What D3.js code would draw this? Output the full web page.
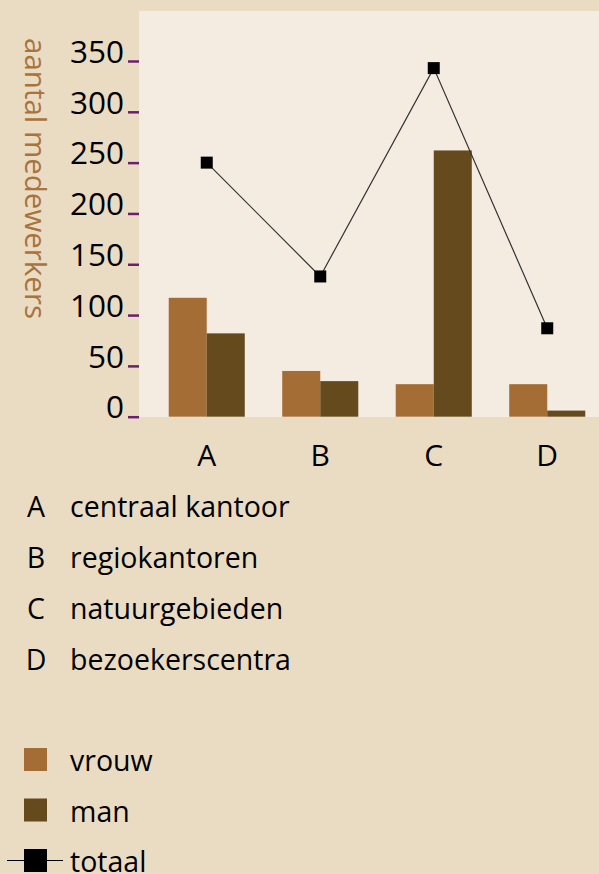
<!DOCTYPE html>
<html>
<head>
<meta charset="utf-8">
<script src="https://cdn.jsdelivr.net/npm/d3@7"></script>
<style>
  body { margin: 0; background: #eadbc3; }
  svg { display: block; font-family: "Open Sans", sans-serif; }
</style>
</head>
<body>
<svg id="chart" width="599" height="874"></svg>
<script>
// data
let categories = ["A", "B", "C", "D"];
let categoryNames = ["centraal kantoor", "regiokantoren", "natuurgebieden", "bezoekerscentra"];
let vrouw = [117, 45, 32, 32];
let man = [82, 35, 262, 6];
let totaal = [250, 138, 343, 87];
let yTicks = [0, 50, 100, 150, 200, 250, 300, 350];
let seriesNames = ["vrouw", "man", "totaal"];

let colors = {vrouw: "#a46d35", man: "#654a1d", totaal: "#000"};

let svg = d3.select("#chart");

let plot = {left: 139, right: 599, top: 11, bottom: 417};

svg.append("rect")
    .attr("x", plot.left)
    .attr("y", plot.top)
    .attr("width", plot.right - plot.left)
    .attr("height", plot.bottom - plot.top)
    .attr("fill", "#f5ece1");

let x = d3.scaleBand()
    .domain(categories)
    .range([150, 604])
    .paddingInner(0.33)
    .paddingOuter(0.165);

let xSub = d3.scaleBand()
    .domain(["vrouw", "man"])
    .range([0, x.bandwidth()]);

let y = d3.scaleLinear()
    .domain([0, 350])
    .range([416.7, 61]);

// y axis
let yAxis = svg.append("g")
    .attr("transform", "translate(" + plot.left + ",0)")
    .call(d3.axisLeft(y).tickValues(yTicks).tickSize(11).tickPadding(4));
yAxis.select(".domain").remove();
yAxis.selectAll(".tick line")
    .attr("stroke", "#6b1f70")
    .attr("stroke-width", 2.5);
yAxis.selectAll(".tick text")
    .attr("dy", "0.04em")
    .attr("fill", "#000")
    .style("font-size", "31.5px")
    .style("font-family", "'Open Sans', sans-serif");

svg.append("text")
    .attr("transform", "translate(25,38) rotate(90)")
    .attr("fill", "#a8733c")
    .style("font-size", "29.5px")
    .text("aantal medewerkers");

// x axis
let xAxis = svg.append("g")
    .attr("transform", "translate(0," + plot.bottom + ")")
    .call(d3.axisBottom(x).tickSize(0).tickPadding(0));
xAxis.select(".domain").remove();
xAxis.selectAll(".tick text")
    .attr("y", 49)
    .attr("dy", 0)
    .attr("fill", "#000")
    .style("font-size", "30px")
    .style("font-family", "'Open Sans', sans-serif");

// bars
let rows = categories.map((c, i) => ({cat: c, vrouw: vrouw[i], man: man[i], totaal: totaal[i]}));

let groups = svg.append("g")
    .selectAll("g")
    .data(rows)
    .enter().append("g")
    .attr("transform", d => "translate(" + x(d.cat) + ",0)");

groups.selectAll("rect")
    .data(d => ["vrouw", "man"].map(k => ({key: k, value: d[k]})))
    .enter().append("rect")
    .attr("x", d => xSub(d.key))
    .attr("width", xSub.bandwidth())
    .attr("y", d => y(d.value))
    .attr("height", d => y(0) - y(d.value))
    .attr("fill", d => colors[d.key]);

// totaal line
let line = d3.line()
    .x(d => x(d.cat) + x.bandwidth() / 2)
    .y(d => y(d.totaal));

svg.append("path")
    .datum(rows)
    .attr("d", line)
    .attr("fill", "none")
    .attr("stroke", "#333")
    .attr("stroke-width", 1.2);

svg.append("g")
    .selectAll("rect")
    .data(rows)
    .enter().append("rect")
    .attr("x", d => x(d.cat) + x.bandwidth() / 2 - 6)
    .attr("y", d => y(d.totaal) - 6)
    .attr("width", 12)
    .attr("height", 12)
    .attr("fill", "#000");

// category legend
let catLegend = svg.append("g")
    .selectAll("g")
    .data(categories)
    .enter().append("g")
    .attr("transform", (d, i) => "translate(0," + (517 + i * 51) + ")")
    .style("font-size", "28.5px");

catLegend.append("text")
    .attr("x", 36)
    .attr("text-anchor", "middle")
    .text(d => d);

catLegend.append("text")
    .attr("x", 70)
    .text((d, i) => categoryNames[i]);

// series legend
let serLegend = svg.append("g")
    .selectAll("g")
    .data(seriesNames)
    .enter().append("g")
    .attr("transform", (d, i) => "translate(0," + (771 + i * 50.5) + ")")
    .style("font-size", "28.5px");

serLegend.filter(d => d == "totaal")
    .append("line")
    .attr("x1", 7)
    .attr("x2", 63)
    .attr("y1", -11.5)
    .attr("y2", -11.5)
    .attr("stroke", "#000")
    .attr("stroke-width", 1.2);

serLegend.append("rect")
    .attr("x", 24)
    .attr("y", -23)
    .attr("width", 23)
    .attr("height", 23)
    .attr("fill", d => colors[d]);

serLegend.append("text")
    .attr("x", 70)
    .text(d => d);
</script>
</body>
</html>
